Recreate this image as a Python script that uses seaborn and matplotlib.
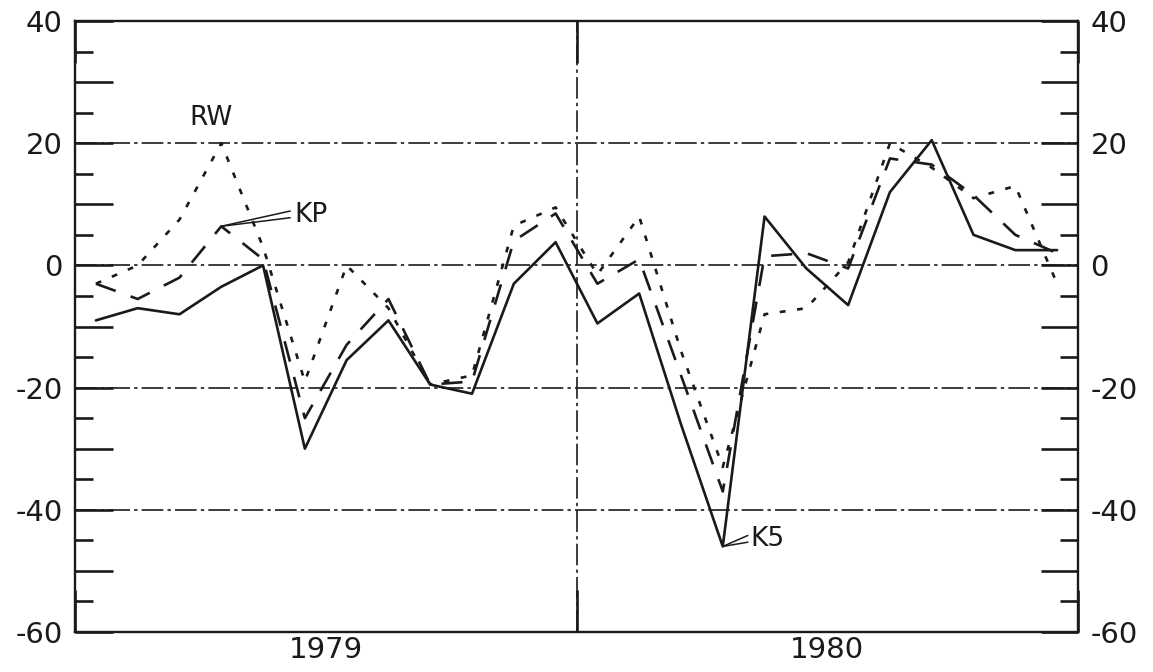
import numpy as np
import pandas as pd
import matplotlib
matplotlib.use("Agg")
import matplotlib.pyplot as plt
import seaborn as sns
from matplotlib.ticker import MultipleLocator, FixedLocator, FuncFormatter

# Monthly values, January 1979 .. December 1980
months = np.arange(24)
k5 = [-9, -7, -8, -3.5, 0, -30, -15.5, -9, -19.5, -21, -3, 3.8,
      -9.5, -4.6, -26, -46, 8, -0.5, -6.5, 12, 20.5, 5, 2.5, 2.5]
kp = [-3, -5.5, -2, 6.4, 1, -25, -13, -5.5, -19.5, -19, 4, 8.5,
      -3, 1, -18, -37, 1.5, 2, -0.5, 17.5, 16.5, 11.5, 5, 2]
rw = [-3, 0, 7.5, 20, 3, -19, 0, -7, -19.5, -18, 6.5, 9.5,
      -1.5, 8, -14, -33, -8, -7, 0.5, 20, 16, 11, 13, -3]
series_names = ["K5", "KP", "RW"]
year_labels = ["1979", "1980"]

sns.set_style("white")
plt.rcParams["font.family"] = ["DejaVu Sans"]
plt.rcParams["axes.unicode_minus"] = False

ink = "#1a1a1a"

df = pd.DataFrame({
    "month": np.tile(months, 3) + 0.5,
    "value": k5 + kp + rw,
    "series": np.repeat(series_names, len(months)),
})

fig = plt.figure(figsize=(11.53, 6.72), dpi=100)
ax = fig.add_axes([75 / 1153, 1 - 632 / 672, 1003 / 1153, 611 / 672])

# dash-dot grid every 20 units and at the year boundary
for yv in (-40, -20, 0, 20):
    ax.axhline(yv, color=ink, lw=1.2, ls=(0, (13, 2.5, 2, 2.5)), zorder=1)
ax.axvline(12, color=ink, lw=1.2, ls=(0, (13, 2.5, 2, 2.5)), zorder=1)

sns.lineplot(data=df, x="month", y="value", style="series",
             dashes={"K5": "", "KP": (8, 6), "RW": (2.2, 4.4)},
             color=ink, linewidth=1.9, legend=False, ax=ax, zorder=3)

ax.set_xlim(0, 24)
ax.set_ylim(-60, 40)
ax.set_xlabel("")
ax.set_ylabel("")

for side in ("left", "right", "top", "bottom"):
    ax.spines[side].set_visible(True)
    ax.spines[side].set_color(ink)
    ax.spines[side].set_linewidth(1.7)

# y axis: labels every 20, long ticks every 10, short ticks every 5
ax.yaxis.set_major_locator(MultipleLocator(10))
ax.yaxis.set_minor_locator(MultipleLocator(5))
ax.yaxis.set_major_formatter(FuncFormatter(lambda v, p: f"{int(v)}" if int(v) % 20 == 0 else ""))
ax.tick_params(axis="y", which="major", direction="in", length=27, width=1.9,
               left=True, right=True, labelleft=True, labelright=True,
               labelsize=21, pad=9, colors=ink)
ax.tick_params(axis="y", which="minor", direction="in", length=13, width=1.9,
               left=True, right=True, colors=ink)

# x axis: year boundaries as ticks, year names centred in each year
ax.xaxis.set_major_locator(FixedLocator([0, 12, 24]))
ax.xaxis.set_major_formatter(FuncFormatter(lambda v, p: ""))
ax.xaxis.set_minor_locator(FixedLocator([6, 18]))
ax.xaxis.set_minor_formatter(FuncFormatter(lambda v, p: year_labels[int(v) // 12]))
ax.tick_params(axis="x", which="major", direction="in", length=30, width=1.9,
               top=True, bottom=True, colors=ink)
ax.tick_params(axis="x", which="minor", length=0, labelsize=21, pad=3, colors=ink)

# series labels with wedge-shaped leaders
ax.text(3.25, 24.2, "RW", ha="center", va="center", fontsize=19, color=ink)

kp_tip = (months[3] + 0.5, kp[3])
for yend in (8.9, 7.8):
    ax.plot([kp_tip[0], 5.15], [kp_tip[1], yend], color=ink, lw=1.1, zorder=4)
ax.text(5.25, 8.3, "KP", ha="left", va="center", fontsize=19, color=ink)

k5_tip = (months[15] + 0.5, k5[15])
for yend in (-44.2, -45.3):
    ax.plot([k5_tip[0], 16.1], [k5_tip[1], yend], color=ink, lw=1.1, zorder=4)
ax.text(16.15, -44.7, "K5", ha="left", va="center", fontsize=19, color=ink)

fig.savefig("out.png", dpi=100, facecolor="white")
